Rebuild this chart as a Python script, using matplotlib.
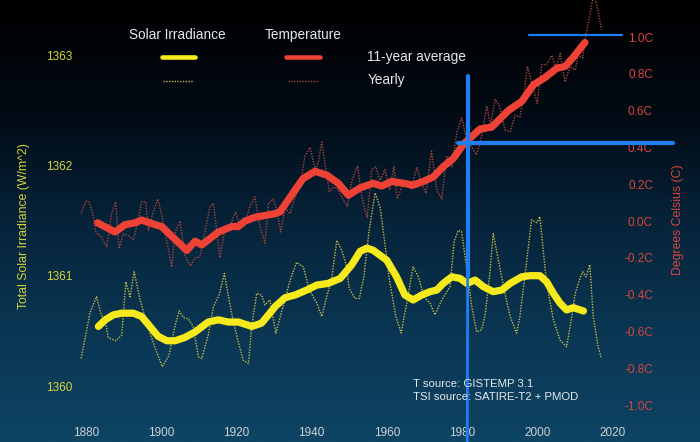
import numpy as np
import matplotlib
matplotlib.use('Agg')
import matplotlib.pyplot as plt
from matplotlib.colors import LinearSegmentedColormap
from matplotlib.lines import Line2D

plt.rcParams['font.family'] = ['Liberation Sans', 'DejaVu Sans']

# (year, value) pairs
temp_avg = [
    (1883.1, -0.01), (1887.7, -0.06), (1890.4, -0.02), (1893.0, -0.01), (1894.8, 0.005),
    (1898.4, -0.02), (1900.1, -0.03), (1903.7, -0.10), (1906.8, -0.16), (1909.0, -0.11),
    (1910.8, -0.13), (1915.2, -0.06), (1918.8, -0.03), (1920.5, -0.03), (1922.3, 0.00),
    (1924.9, 0.02), (1930.3, 0.04), (1931.6, 0.05), (1934.3, 0.13), (1937.7, 0.23),
    (1940.9, 0.27), (1944.0, 0.25), (1947.1, 0.205), (1949.8, 0.14), (1952.9, 0.18),
    (1956.4, 0.205), (1958.6, 0.19), (1961.3, 0.215), (1964.4, 0.205), (1967.0, 0.195),
    (1969.7, 0.215), (1972.4, 0.24), (1975.0, 0.295), (1977.7, 0.34), (1980.5, 0.42),
    (1984.8, 0.50), (1987.9, 0.51), (1992.3, 0.60), (1995.9, 0.65), (1999.0, 0.74),
    (2002.1, 0.78), (2005.2, 0.83), (2007.4, 0.84), (2009.6, 0.89), (2012.7, 0.97),
]

temp_yearly = [
    (1878.7, 0.04), (1879.9, 0.11), (1880.8, 0.105), (1881.9, 0.03), (1882.6, -0.06),
    (1884.2, -0.09), (1885.5, -0.14), (1886.8, 0.04), (1887.9, 0.105), (1888.8, -0.15),
    (1889.9, -0.07), (1891.3, -0.08), (1892.6, -0.10), (1893.5, -0.03), (1894.8, 0.105),
    (1895.9, 0.105), (1896.6, -0.05), (1897.6, 0.03), (1899.1, 0.12), (1900.3, 0.02),
    (1901.5, -0.11), (1902.8, -0.25), (1903.7, -0.06), (1905.0, 0.00), (1906.3, -0.185),
    (1907.7, -0.245), (1909.0, -0.20), (1910.3, -0.195), (1911.6, -0.06), (1913.0, 0.08),
    (1913.9, 0.095), (1914.8, -0.06), (1915.6, -0.20), (1916.8, -0.06), (1918.6, -0.01),
    (1919.8, 0.05), (1921.0, -0.04), (1922.3, -0.01), (1923.6, 0.08), (1924.9, 0.13),
    (1926.3, -0.03), (1927.6, -0.12), (1928.5, 0.095), (1929.8, 0.12), (1930.7, 0.06),
    (1931.8, -0.06), (1932.9, 0.07), (1934.3, 0.04), (1935.3, 0.115), (1936.9, 0.185),
    (1938.2, 0.35), (1939.6, 0.40), (1940.9, 0.28), (1941.8, 0.32), (1942.7, 0.43),
    (1943.8, 0.28), (1944.7, 0.16), (1945.8, 0.185), (1947.1, 0.17), (1948.4, 0.115),
    (1949.5, 0.08), (1950.7, 0.22), (1952.2, 0.30), (1953.1, 0.17), (1953.9, 0.08),
    (1954.8, 0.02), (1956.0, 0.28), (1957.1, 0.295), (1958.2, 0.22), (1959.5, 0.28),
    (1960.7, 0.17), (1961.9, 0.295), (1962.8, 0.12), (1964.0, 0.185), (1965.3, 0.22),
    (1966.4, 0.17), (1968.0, 0.29), (1969.3, 0.205), (1970.4, 0.15), (1971.9, 0.38),
    (1973.3, 0.17), (1974.6, 0.12), (1975.9, 0.35), (1977.3, 0.295), (1978.6, 0.48),
    (1979.9, 0.56), (1981.3, 0.44), (1982.6, 0.40), (1983.9, 0.36), (1985.2, 0.46),
    (1986.6, 0.625), (1987.6, 0.52), (1988.8, 0.66), (1990.1, 0.62), (1991.4, 0.495),
    (1992.8, 0.485), (1994.1, 0.575), (1995.4, 0.565), (1996.5, 0.695), (1997.4, 0.84),
    (1998.8, 0.73), (2000.0, 0.64), (2001.2, 0.85), (2002.5, 0.85), (2003.9, 0.90),
    (2005.0, 0.83), (2006.1, 0.91), (2007.4, 0.755), (2008.7, 0.84), (2010.1, 0.82),
    (2010.9, 0.90), (2012.1, 0.885), (2012.7, 0.985), (2013.9, 1.11), (2015.1, 1.24),
    (2016.3, 1.13), (2017.1, 1.04),
]

tsi_avg = [
    (1883.3, 1360.54), (1885.1, 1360.60), (1887.3, 1360.645), (1889.5, 1360.66),
    (1892.6, 1360.66), (1894.8, 1360.63), (1897.0, 1360.54), (1899.2, 1360.45),
    (1901.5, 1360.41), (1903.7, 1360.41), (1906.3, 1360.44), (1909.0, 1360.49),
    (1912.5, 1360.58), (1915.2, 1360.60), (1917.8, 1360.58), (1920.5, 1360.58),
    (1924.1, 1360.54), (1926.7, 1360.57), (1928.9, 1360.66), (1930.3, 1360.72),
    (1932.9, 1360.80), (1935.6, 1360.825), (1938.7, 1360.87), (1941.4, 1360.915),
    (1944.4, 1360.93), (1947.6, 1360.975), (1950.7, 1361.10), (1952.9, 1361.22),
    (1954.7, 1361.25), (1956.4, 1361.23), (1960.0, 1361.14), (1962.6, 1360.99),
    (1964.8, 1360.825), (1967.0, 1360.78), (1969.3, 1360.825), (1971.5, 1360.855),
    (1973.3, 1360.87), (1975.0, 1360.93), (1977.3, 1360.99), (1979.5, 1360.975),
    (1981.3, 1360.93), (1983.5, 1360.96), (1985.7, 1360.90), (1988.3, 1360.855),
    (1990.6, 1360.87), (1992.8, 1360.93), (1995.9, 1360.99), (1998.1, 1361.00),
    (2000.7, 1361.00), (2002.5, 1360.945), (2004.3, 1360.84), (2006.1, 1360.75),
    (2007.8, 1360.69), (2009.6, 1360.71), (2012.3, 1360.68),
]

tsi_yearly = [
    (1878.7, 1360.25), (1881.1, 1360.67), (1882.8, 1360.81), (1884.0, 1360.65),
    (1885.2, 1360.58), (1885.9, 1360.44), (1887.9, 1360.41), (1889.5, 1360.46),
    (1890.6, 1360.945), (1891.7, 1360.81), (1892.8, 1361.035), (1894.4, 1360.78),
    (1896.1, 1360.58), (1898.4, 1360.34), (1900.3, 1360.175), (1902.1, 1360.28),
    (1903.7, 1360.55), (1904.8, 1360.68), (1905.9, 1360.62), (1907.2, 1360.61),
    (1908.5, 1360.54), (1909.9, 1360.265), (1910.8, 1360.25), (1912.5, 1360.46),
    (1913.9, 1360.72), (1915.4, 1360.825), (1916.8, 1361.02), (1917.8, 1360.825),
    (1919.2, 1360.58), (1920.5, 1360.40), (1921.8, 1360.235), (1923.2, 1360.205),
    (1924.1, 1360.55), (1925.4, 1360.84), (1926.7, 1360.825), (1927.6, 1360.735),
    (1928.9, 1360.78), (1930.5, 1360.48), (1934.3, 1360.96), (1936.0, 1361.12),
    (1937.8, 1361.08), (1939.4, 1360.87), (1941.4, 1360.75), (1942.7, 1360.63),
    (1944.0, 1360.81), (1945.3, 1360.96), (1946.7, 1361.32), (1948.0, 1361.23),
    (1949.1, 1361.11), (1950.0, 1360.885), (1951.5, 1360.795), (1952.7, 1360.795),
    (1953.9, 1360.99), (1955.3, 1361.41), (1956.9, 1361.75), (1958.2, 1361.62),
    (1959.5, 1361.29), (1960.7, 1360.96), (1962.4, 1360.63), (1963.8, 1360.48),
    (1965.3, 1360.75), (1967.0, 1361.08), (1968.4, 1360.99), (1969.9, 1360.81),
    (1971.5, 1360.75), (1972.8, 1360.645), (1974.6, 1360.78), (1976.8, 1360.90),
    (1977.9, 1361.31), (1979.0, 1361.41), (1979.9, 1361.40), (1981.3, 1361.05),
    (1982.6, 1360.72), (1983.9, 1360.49), (1985.2, 1360.51), (1986.1, 1360.63),
    (1987.4, 1361.02), (1988.3, 1361.38), (1991.4, 1360.84), (1992.8, 1360.63),
    (1994.5, 1360.48), (1995.4, 1360.63), (1996.8, 1361.02), (1998.5, 1361.505),
    (1999.9, 1361.48), (2000.7, 1361.535), (2001.6, 1361.23), (2002.5, 1360.93),
    (2004.3, 1360.60), (2006.1, 1360.415), (2007.8, 1360.355), (2009.2, 1360.63),
    (2010.1, 1360.84), (2011.4, 1360.975), (2012.1, 1361.035), (2013.0, 1360.99),
    (2014.0, 1361.10), (2014.9, 1360.63), (2016.2, 1360.355), (2017.1, 1360.25),
]

year_ticks = [1880, 1900, 1920, 1940, 1960, 1980, 2000, 2020]
tsi_ticks = [1360, 1361, 1362, 1363]
temp_ticks = [-1.0, -0.8, -0.6, -0.4, -0.2, 0.0, 0.2, 0.4, 0.6, 0.8, 1.0]

# hand-drawn blue marker lines: (x0, x1, y0, y1, width) in year / degC
marks = [
    (1981.5, 1981.5, 0.79, -0.30, 3.0),   # vertical at ~1980, heavy top part
    (1981.5, 1981.4, -0.30, -1.20, 2.0),  # thinner lower part
    (1979.0, 2036.0, 0.425, 0.425, 3.0),  # level at ~0.42C
    (1997.9, 2022.5, 1.01, 1.01, 1.6),    # level at ~1.0C
]

RED = '#ef4236'
RED_DOT = '#a9433c'
YEL = '#f6ea1c'
YEL_DOT = '#c2bc48'
BLUE = '#1f7ff2'

fig = plt.figure(figsize=(7.0, 4.42), dpi=100)

# background gradient
bg = fig.add_axes([0, 0, 1, 1], zorder=-10)
cmap = LinearSegmentedColormap.from_list(
    'bg', ['#000000', '#020a14', '#062339', '#0a3653', '#0e4464'])
bg.imshow(np.linspace(0, 1, 256)[:, None], aspect='auto', cmap=cmap,
          extent=[0, 1, 0, 1], origin='upper')
bg.axis('off')

ax = fig.add_axes([76 / 700, 22 / 442, 546 / 700, 420 / 442])
ax.patch.set_visible(False)
ax_t = ax.twinx()
for a in (ax, ax_t):
    for s in a.spines.values():
        s.set_visible(False)

ax.set_xlim(1877.34, 2022.55)
ax.set_ylim(1359.692, 1363.4986)
ax_t.set_ylim(-1.0815, 1.2011)

ty, tv = zip(*tsi_yearly)
ax.plot(ty, tv, color=YEL_DOT, lw=1.0, ls=(0, (1, 1)))
ta, tav = zip(*tsi_avg)
ax.plot(ta, tav, color=YEL, lw=5.2, solid_joinstyle='round', solid_capstyle='round')

ry, rv = zip(*temp_yearly)
ax_t.plot(ry, rv, color=RED_DOT, lw=1.0, ls=(0, (1, 1)))
ra, rav = zip(*temp_avg)
ax_t.plot(ra, rav, color=RED, lw=5.2, solid_joinstyle='round', solid_capstyle='round')

for x0, x1, y0, y1, w in marks:
    ax_t.plot([x0, x1], [y0, y1], color=BLUE, lw=w, clip_on=False,
              solid_capstyle='round', zorder=5)

ax.set_xticks(year_ticks)
ax.tick_params(axis='x', length=0, pad=5, labelsize=8.5, labelcolor='#cdd2d6')
ax.set_yticks(tsi_ticks)
ax.tick_params(axis='y', length=0, pad=2.5, labelsize=8.5, labelcolor='#d6d63a')
ax_t.set_yticks(temp_ticks, labels=[f'{t:.1f}C' for t in temp_ticks])
ax_t.tick_params(axis='y', length=0, pad=22.3, labelsize=8.5, labelcolor='#d8473e')
plt.setp(ax_t.get_yticklabels(), ha='right')

ax.set_ylabel('Total Solar Irradiance (W/m^2)', color='#d6d63a', fontsize=8.8, va='center')
ax.yaxis.set_label_coords((24 - 76) / 546, (420 - 226) / 420)
ax_t.set_ylabel('Degrees Celsius (C)', color='#d8473e', fontsize=8.8, va='center')
ax_t.yaxis.set_label_coords((678 - 76) / 546, (420 - 220) / 420)

# legend, drawn by hand like the original
W, H = 700, 442
txt = '#e6e8ea'
fig.text(177.5 / W, 1 - 35 / H, 'Solar Irradiance', color=txt, fontsize=9.8,
         ha='center', va='center')
fig.text(303 / W, 1 - 35 / H, 'Temperature', color=txt, fontsize=9.8,
         ha='center', va='center')
fig.text(366.7 / W, 1 - 57.3 / H, '11-year average', color=txt, fontsize=9.8, va='center')
fig.text(368 / W, 1 - 80 / H, 'Yearly', color=txt, fontsize=9.8, va='center')
for x0, x1, y, c, lw, ls in [(162, 195, 57.3, YEL, 3.3, '-'), (286, 320, 57, RED, 3.3, '-'),
                              (163, 193, 81.3, YEL_DOT, 1.0, (0, (1, 1))),
                              (288, 318, 81, RED_DOT, 1.0, (0, (1, 1)))]:
    fig.add_artist(Line2D([x0 / W, x1 / W], [1 - y / H, 1 - y / H], color=c, lw=lw,
                          ls=ls, solid_capstyle='round'))

fig.text(413.3 / W, 1 - 384 / H, 'T source: GISTEMP 3.1', color=txt, fontsize=8.2, va='center')
fig.text(413.3 / W, 1 - 397.3 / H, 'TSI source: SATIRE-T2 + PMOD', color=txt, fontsize=8.2,
         va='center')

fig.savefig('out.png', dpi=100)
